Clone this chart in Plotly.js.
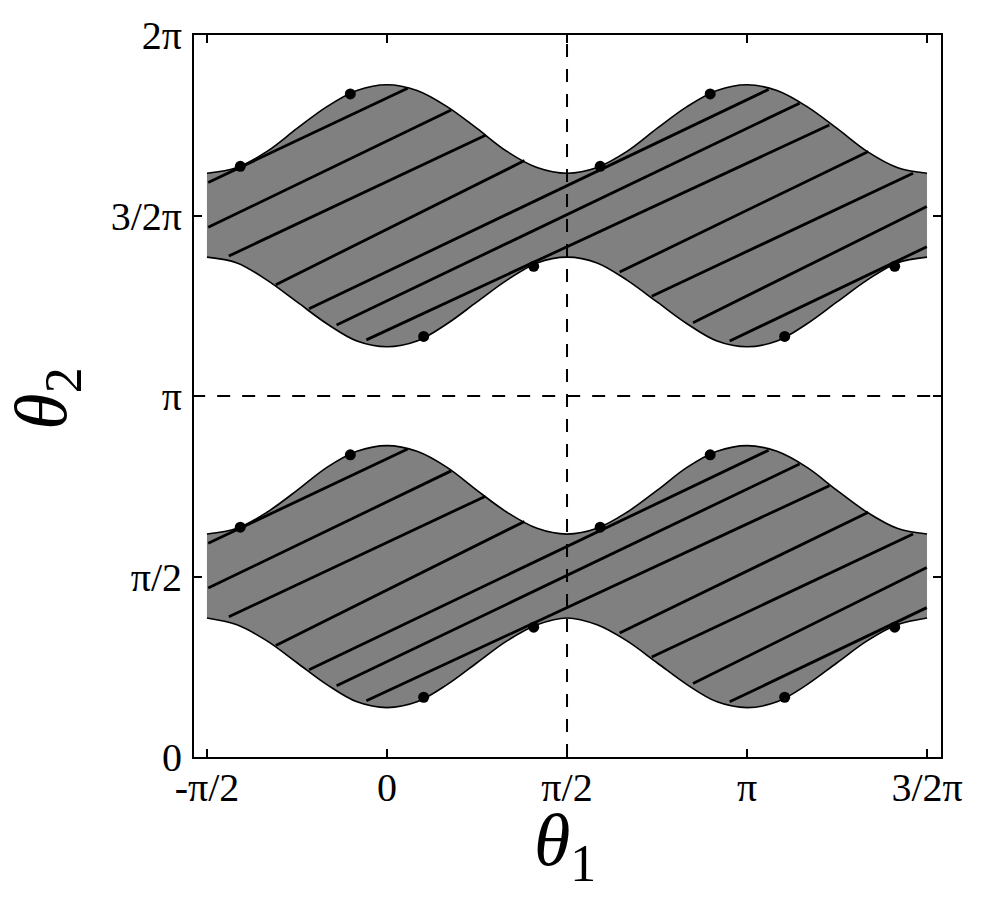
<!DOCTYPE html>
<html>
<head>
<meta charset="utf-8">
<script src="https://cdn.plot.ly/plotly-3.0.1.min.js"></script>
<style>html,body{margin:0;padding:0;background:#fff;}#chart{width:989px;height:904px;}</style>
</head>
<body>
<div id="chart"></div>
<script>
// ---- data (radians) ----
var theta1 = [-1.571, -1.309, -1.047, -0.785, -0.524, -0.262, 0, 0.262, 0.524, 0.785, 1.047, 1.309, 1.571,
              1.833, 2.094, 2.356, 2.618, 2.880, 3.142, 3.403, 3.665, 3.927, 4.189, 4.451, 4.712];

var upperBandTop = [5.08, 5.13, 5.27, 5.47, 5.66, 5.80, 5.85, 5.80, 5.66, 5.47, 5.27, 5.13, 5.08,
                    5.13, 5.27, 5.47, 5.66, 5.80, 5.85, 5.80, 5.66, 5.47, 5.27, 5.13, 5.08];
var upperBandBottom = [4.35, 4.30, 4.15, 3.96, 3.77, 3.62, 3.57, 3.62, 3.77, 3.96, 4.15, 4.30, 4.35,
                       4.30, 4.15, 3.96, 3.77, 3.62, 3.57, 3.62, 3.77, 3.96, 4.15, 4.30, 4.35];
var lowerBandTop = [1.94, 1.99, 2.13, 2.32, 2.52, 2.66, 2.71, 2.66, 2.52, 2.32, 2.13, 1.99, 1.94,
                    1.99, 2.13, 2.32, 2.52, 2.66, 2.71, 2.66, 2.52, 2.32, 2.13, 1.99, 1.94];
var lowerBandBottom = [1.21, 1.15, 1.01, 0.82, 0.63, 0.48, 0.43, 0.48, 0.63, 0.82, 1.01, 1.15, 1.21,
                       1.15, 1.01, 0.82, 0.63, 0.48, 0.43, 0.48, 0.63, 0.82, 1.01, 1.15, 1.21];

// hatch segments, upper band
var upperHatchX0 = [-1.56, -1.56, -1.38, -0.97, -0.68, -0.44, -0.18, 2.03, 2.31, 2.67, 2.99];
var upperHatchY0 = [5.00, 4.61, 4.36, 4.11, 3.90, 3.76, 3.63, 4.22, 4.01, 3.78, 3.62];
var upperHatchX1 = [0.18, 0.56, 0.86, 1.20, 3.33, 3.60, 3.86, 4.20, 4.59, 4.71, 4.71];
var upperHatchY1 = [5.82, 5.63, 5.41, 5.19, 5.81, 5.69, 5.50, 5.27, 5.08, 4.79, 4.44];
// hatch segments, lower band
var lowerHatchX0 = [-1.56, -1.56, -1.38, -0.97, -0.68, -0.44, -0.18, 2.03, 2.31, 2.67, 2.99];
var lowerHatchY0 = [1.86, 1.47, 1.22, 0.97, 0.76, 0.62, 0.49, 1.08, 0.87, 0.64, 0.48];
var lowerHatchX1 = [0.18, 0.56, 0.86, 1.20, 3.33, 3.60, 3.86, 4.20, 4.59, 4.71, 4.71];
var lowerHatchY1 = [2.68, 2.49, 2.27, 2.05, 2.67, 2.55, 2.36, 2.13, 1.94, 1.65, 1.30];

// marked points
var dotTheta1 = [-1.28, -0.32, 0.32, 1.28, 1.86, 2.82, 3.47, 4.43,
                 -1.28, -0.32, 0.32, 1.28, 1.86, 2.82, 3.47, 4.43];
var dotTheta2 = [5.14, 5.77, 3.66, 4.27, 5.14, 5.77, 3.66, 4.27,
                 2.00, 2.63, 0.52, 1.13, 2.00, 2.63, 0.52, 1.13];

// reference lines
var vLineX = [1.5708, 1.5708];
var vLineY = [0, 6.2832];
var hLineX = [-1.70, 4.86];
var hLineY = [3.1416, 3.1416];

var xTickVals = [-1.5708, 0, 1.5708, 3.1416, 4.7124];
var xTickText = ['-π/2', '0', 'π/2', 'π', '3/2π'];
var yTickVals = [0, 1.5708, 3.1416, 4.7124, 6.2832];
var yTickText = ['0', 'π/2', 'π', '3/2π', '2π'];
var xTitle = '<i>θ</i><sub>1</sub>';
var yTitle = '<i>θ</i><sub>2</sub>';

// ---- build traces ----
function segs(x0, y0, x1, y1) {
  var xs = [], ys = [];
  for (var i = 0; i < x0.length; i++) {
    xs.push(x0[i], x1[i], null);
    ys.push(y0[i], y1[i], null);
  }
  return {x: xs, y: ys};
}
var bandLine = {color: '#000', width: 1.6, shape: 'spline', smoothing: 1};
var traces = [];
traces.push({x: theta1, y: upperBandBottom, mode: 'lines', line: bandLine, hoverinfo: 'skip'});
traces.push({x: theta1, y: upperBandTop, mode: 'lines', line: bandLine, fill: 'tonexty', fillcolor: '#808080', hoverinfo: 'skip'});
traces.push({x: theta1, y: lowerBandBottom, mode: 'lines', line: bandLine, hoverinfo: 'skip'});
traces.push({x: theta1, y: lowerBandTop, mode: 'lines', line: bandLine, fill: 'tonexty', fillcolor: '#808080', hoverinfo: 'skip'});

var uh = segs(upperHatchX0, upperHatchY0, upperHatchX1, upperHatchY1);
var lh = segs(lowerHatchX0, lowerHatchY0, lowerHatchX1, lowerHatchY1);
traces.push({x: uh.x, y: uh.y, mode: 'lines', line: {color: '#000', width: 2.8}, connectgaps: false, hoverinfo: 'skip'});
traces.push({x: lh.x, y: lh.y, mode: 'lines', line: {color: '#000', width: 2.8}, connectgaps: false, hoverinfo: 'skip'});

traces.push({x: vLineX, y: vLineY, mode: 'lines', line: {color: '#000', width: 2, dash: '13px,12px'}, hoverinfo: 'skip'});
traces.push({x: hLineX, y: hLineY, mode: 'lines', line: {color: '#000', width: 2, dash: '13px,12px'}, hoverinfo: 'skip'});

traces.push({x: dotTheta1, y: dotTheta2, mode: 'markers', marker: {color: '#000', size: 11}, hoverinfo: 'skip'});

var tickFont = {family: 'Liberation Serif, serif', size: 40, color: '#000'};
var titleFont = {family: 'Liberation Serif, serif', size: 74, color: '#000'};
var layout = {
  width: 989, height: 904,
  margin: {l: 194, r: 48, t: 35, b: 147, pad: 0},
  paper_bgcolor: '#fff', plot_bgcolor: '#fff',
  showlegend: false,
  xaxis: {
    range: [-1.684, 4.834], showgrid: false, zeroline: false,
    showline: true, linecolor: '#000', linewidth: 2, mirror: 'ticks',
    ticks: 'inside', ticklen: 8, tickwidth: 2, tickcolor: '#000',
    tickvals: xTickVals, ticktext: xTickText, tickfont: tickFont,
    ticklabelstandoff: -6
  },
  yaxis: {
    range: [0, 6.2832], showgrid: false, zeroline: false,
    showline: true, linecolor: '#000', linewidth: 2, mirror: 'ticks',
    ticks: 'inside', ticklen: 8, tickwidth: 2, tickcolor: '#000',
    tickvals: yTickVals, ticktext: yTickText, tickfont: tickFont,
    ticklabelstandoff: 2
  },
  annotations: [
    {text: xTitle, xref: 'paper', yref: 'paper', x: 0.497, y: -0.056, xanchor: 'center', yanchor: 'top',
     showarrow: false, font: titleFont},
    {text: yTitle, xref: 'paper', yref: 'paper', x: -0.197, y: 0.496, xanchor: 'center', yanchor: 'middle',
     textangle: -90, showarrow: false, font: titleFont}
  ]
};
Plotly.newPlot('chart', traces, layout, {displayModeBar: false, staticPlot: true});
</script>
</body>
</html>
